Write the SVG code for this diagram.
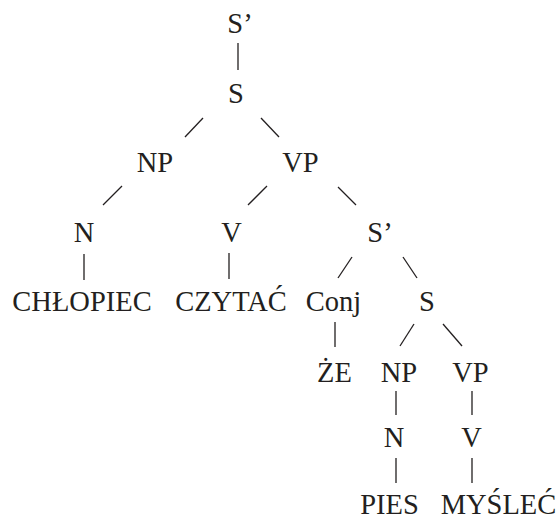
<svg xmlns="http://www.w3.org/2000/svg" width="559" height="519" viewBox="0 0 559 519">
<style>
.t{font-family:"Liberation Serif","Times New Roman",serif;font-size:28.5px;fill:#231f20;text-anchor:middle}
.e line{stroke:#231f20;stroke-width:1.3;fill:none}
</style>
<rect width="559" height="519" fill="#fff"/>
<g id="connectors" class="e">
<line x1="238" y1="43" x2="238" y2="70"/>
<line x1="203" y1="118" x2="185" y2="137"/>
<line x1="261" y1="118" x2="279" y2="137"/>
<line x1="122" y1="186" x2="103" y2="205"/>
<line x1="267" y1="186" x2="248" y2="205"/>
<line x1="338" y1="187" x2="356" y2="205"/>
<line x1="84" y1="254" x2="84" y2="280"/>
<line x1="229" y1="253" x2="229" y2="279"/>
<line x1="352" y1="257" x2="338" y2="278"/>
<line x1="403" y1="257" x2="417" y2="278"/>
<line x1="335" y1="322" x2="335" y2="347"/>
<line x1="414" y1="324" x2="400" y2="346"/>
<line x1="443" y1="324" x2="462" y2="346"/>
<line x1="396" y1="391" x2="396" y2="415"/>
<line x1="472" y1="391" x2="472" y2="415"/>
<line x1="396" y1="458" x2="396" y2="483"/>
<line x1="472" y1="458" x2="472" y2="483"/>
</g>
<g id="n-sbar-root"><text class="t" x="240" y="33">S’</text></g>
<g id="n-s-root"><text class="t" x="236" y="103">S</text></g>
<g id="n-np1"><text class="t" x="155" y="172">NP</text></g>
<g id="n-vp1"><text class="t" x="300.5" y="172">VP</text></g>
<g id="n-n1"><text class="t" x="84" y="242">N</text></g>
<g id="n-v1"><text class="t" x="231.5" y="242">V</text></g>
<g id="n-sbar2"><text class="t" x="380" y="242">S’</text></g>
<g id="n-chlopiec"><text class="t" x="82" y="311">CHŁOPIEC</text></g>
<g id="n-czytac"><text class="t" x="231" y="311">CZYTAĆ</text></g>
<g id="n-conj"><text class="t" x="333.5" y="311">Conj</text></g>
<g id="n-s2"><text class="t" x="427" y="311">S</text></g>
<g id="n-ze"><text class="t" x="334.5" y="382">ŻE</text></g>
<g id="n-np2"><text class="t" x="399" y="382">NP</text></g>
<g id="n-vp2"><text class="t" x="470.5" y="382">VP</text></g>
<g id="n-n2"><text class="t" x="394" y="447">N</text></g>
<g id="n-v2"><text class="t" x="471.5" y="447">V</text></g>
<g id="n-pies"><text class="t" x="389.5" y="514">PIES</text></g>
<g id="n-myslec"><text class="t" x="498.5" y="514">MYŚLEĆ</text></g>
</svg>
